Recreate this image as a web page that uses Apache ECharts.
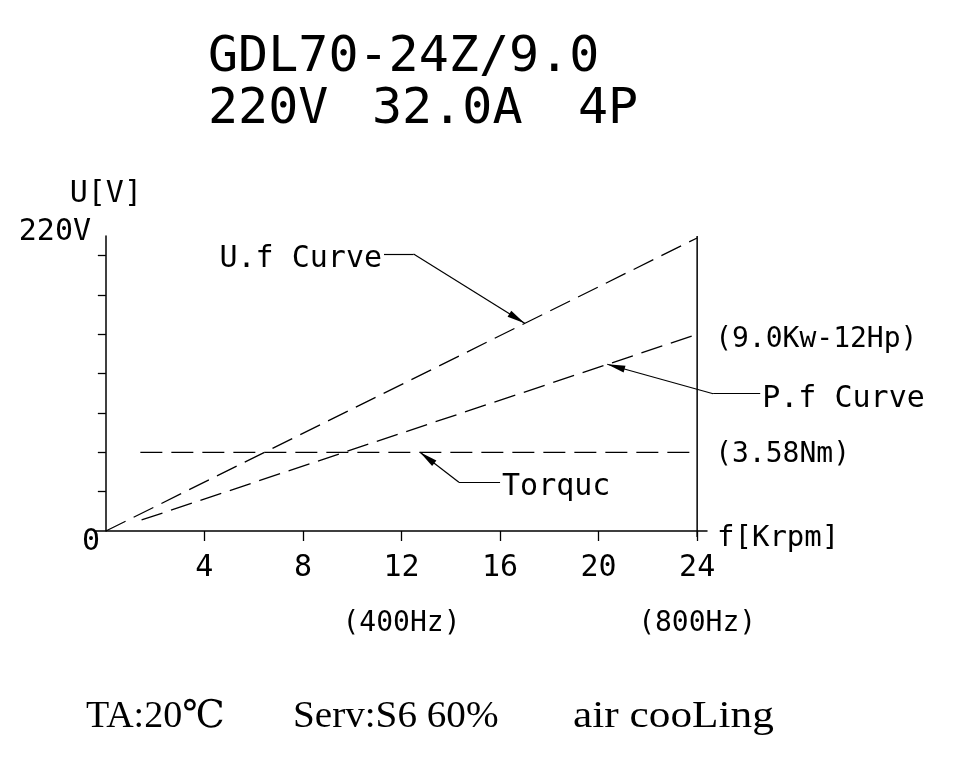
<!DOCTYPE html>
<html>
<head>
<meta charset="utf-8">
<title>GDL70-24Z/9.0</title>
<script src="https://cdn.jsdelivr.net/npm/echarts@6/dist/echarts.min.js"></script>
<style>
  html, body { margin: 0; padding: 0; background: #fff; }
  #chart { width: 960px; height: 776px; }
</style>
</head>
<body>
<div id="chart"></div>
<script>
// 曲线数据  x: f[Krpm]   y: 纵轴格数 (7 格 = 220V)
const ufFreq = [0, 24];
const ufValue = [0, 7.45];
const pfFreq = [1.45, 24];
const pfValue = [0.28, 5.0];
const tqFreq = [1.4, 24];
const tqValue = [2, 2];

const xTicks = [4, 8, 12, 16, 20, 24];
const hzTicks = [12, 24];
const hzLabels = ['(400Hz)', '(800Hz)'];
const yTicks = [1, 2, 3, 4, 5, 6, 7];
const yLabelTicks = [0, 7];
const yLabels = ['0', '220V'];

const titleModel = 'GDL70-24Z/9.0';
const titleRating = ['220V', '32.0A', '4P'];
const footTexts = ['TA:20℃', 'Serv:S6 60%', 'air cooLing'];
const pfEndText = '(9.0Kw-12Hp)';
const tqEndText = '(3.58Nm)';

// 引线: 文字端 -> 折点 -> 箭头(指向曲线)
const leaderNames = ['U.f Curve', 'P.f Curve', 'Torquc'];
const leaderText = [[11.29, 7.04], [26.56, 3.49], [16.0, 1.24]];
const leaderJoint = [[12.49, 7.04], [24.65, 3.49], [14.33, 1.24]];
const leaderTip = [[17.0, 5.28], [20.35, 4.24], [12.75, 2.0]];
const frameX = 24;

const cadFont = '"DejaVu Sans Mono", monospace';
const serifFont = '"Liberation Serif", "DejaVu Serif", serif';
const black = '#000';
const dash = [22, 9];
const arrowPath = 'path://M0,0M36,36M18,18L21.5,36L14.5,36Z';

function pairs(xs, ys) {
  return xs.map((x, i) => [x, ys[i]]);
}

function text(str, x, y, font, scaleX) {
  return {
    type: 'text', x: x, y: y, scaleX: scaleX || 1,
    style: { text: str, font: font, fill: black, align: 'left', verticalAlign: 'middle' }
  };
}

const chart = echarts.init(document.getElementById('chart'));

chart.setOption({
  backgroundColor: '#fff',
  animation: false,
  grid: {
    left: 96,
    right: 253,
    top: 236,
    bottom: 245,
    containLabel: false,
    outerBoundsMode: 'none'
  },
  xAxis: {
    type: 'value',
    min: -0.4,
    max: 24.4,
    name: 'f[Krpm]',
    nameLocation: 'end',
    nameGap: 10,
    nameMoveOverlap: false,
    nameTextStyle: { fontFamily: cadFont, fontSize: 29, color: black, verticalAlign: 'top', lineHeight: 14 },
    axisLine: { onZero: true, lineStyle: { color: black, width: 1.5 } },
    axisTick: { show: true, length: 10, customValues: xTicks, lineStyle: { color: black, width: 1.3 } },
    axisLabel: {
      customValues: xTicks,
      margin: 22,
      color: black,
      formatter: function (v) {
        const k = hzTicks.indexOf(v);
        return k >= 0 ? '{n|' + v + '}\n{h|' + hzLabels[k] + '}' : '{n|' + v + '}';
      },
      rich: {
        n: { fontFamily: cadFont, fontSize: 30, lineHeight: 30, color: black },
        h: { fontFamily: cadFont, fontSize: 28, lineHeight: 82, color: black }
      }
    },
    splitLine: { show: false }
  },
  yAxis: {
    type: 'value',
    min: 0,
    max: 7.5,
    name: 'U[V]',
    nameLocation: 'end',
    nameGap: 27,
    nameMoveOverlap: false,
    nameTextStyle: { fontFamily: cadFont, fontSize: 30, color: black },
    axisLine: { show: true, onZero: true, lineStyle: { color: black, width: 1.5 } },
    axisTick: { show: true, length: 8, customValues: yTicks, lineStyle: { color: black, width: 1.3 } },
    axisLabel: {
      customValues: yLabelTicks,
      margin: -4,
      color: black,
      formatter: function (v) {
        const k = yLabelTicks.indexOf(v);
        return k === 0 ? '{z|' + yLabels[k] + '}' : '{t|' + yLabels[k] + '}';
      },
      rich: {
        z: { fontFamily: cadFont, fontSize: 30, lineHeight: 30, padding: [22, 0, 0, 0], color: black },
        t: { fontFamily: cadFont, fontSize: 30, lineHeight: 30, padding: [0, 9, 47, 0], color: black }
      }
    },
    splitLine: { show: false }
  },
  series: [
    {
      name: 'U.f Curve',
      type: 'line',
      data: pairs(ufFreq, ufValue),
      symbol: 'none',
      silent: true,
      lineStyle: { color: black, width: 1.3, type: dash }
    },
    {
      name: 'P.f Curve',
      type: 'line',
      data: pairs(pfFreq, pfValue),
      symbol: 'none',
      silent: true,
      lineStyle: { color: black, width: 1.3, type: dash },
      endLabel: {
        show: true,
        formatter: pfEndText,
        distance: 18,
        offset: [0, 5],
        fontFamily: cadFont,
        fontSize: 28,
        color: black
      }
    },
    {
      name: 'Torquc',
      type: 'line',
      data: pairs(tqFreq, tqValue),
      symbol: 'none',
      silent: true,
      lineStyle: { color: black, width: 1.3, type: dash },
      endLabel: {
        show: true,
        formatter: tqEndText,
        distance: 18,
        offset: [0, 2],
        fontFamily: cadFont,
        fontSize: 28,
        color: black
      }
    },
    {
      // 右侧竖线
      type: 'line',
      data: [[frameX, -0.15], [frameX, 7.5]],
      symbol: 'none',
      silent: true,
      clip: false,
      lineStyle: { color: black, width: 1.5 }
    },
    {
      // 引线水平段 + 文字
      type: 'lines',
      coordinateSystem: 'cartesian2d',
      clip: false,
      silent: true,
      symbol: 'none',
      lineStyle: { color: black, width: 1.2, opacity: 1 },
      label: {
        show: true,
        position: 'end',
        distance: 2,
        formatter: '{a|{b}}',
        rich: {
          a: { fontFamily: cadFont, fontSize: 30, lineHeight: 30, padding: [10, 0, 0, 0], color: black }
        }
      },
      data: leaderNames.map((n, i) => ({ name: n, coords: [leaderJoint[i], leaderText[i]] }))
    },
    {
      // 引线斜段 + 箭头
      type: 'lines',
      coordinateSystem: 'cartesian2d',
      clip: false,
      silent: true,
      symbol: ['none', arrowPath],
      symbolSize: [0, 36],
      lineStyle: { color: black, width: 1.2, opacity: 1 },
      data: leaderJoint.map((p, i) => ({ coords: [p, leaderTip[i]] }))
    }
  ],
  graphic: [
    text(titleModel, 208, 58, '50px ' + cadFont),
    text(titleRating[0], 208, 110, '50px ' + cadFont),
    text(titleRating[1], 372, 110, '50px ' + cadFont),
    text(titleRating[2], 578, 110, '50px ' + cadFont),
    text(footTexts[0], 86, 717, '38px ' + serifFont),
    text(footTexts[1], 293, 717, '38px ' + serifFont, 1.03),
    text(footTexts[2], 573, 717, '38px ' + serifFont, 1.14)
  ]
});
</script>
</body>
</html>
